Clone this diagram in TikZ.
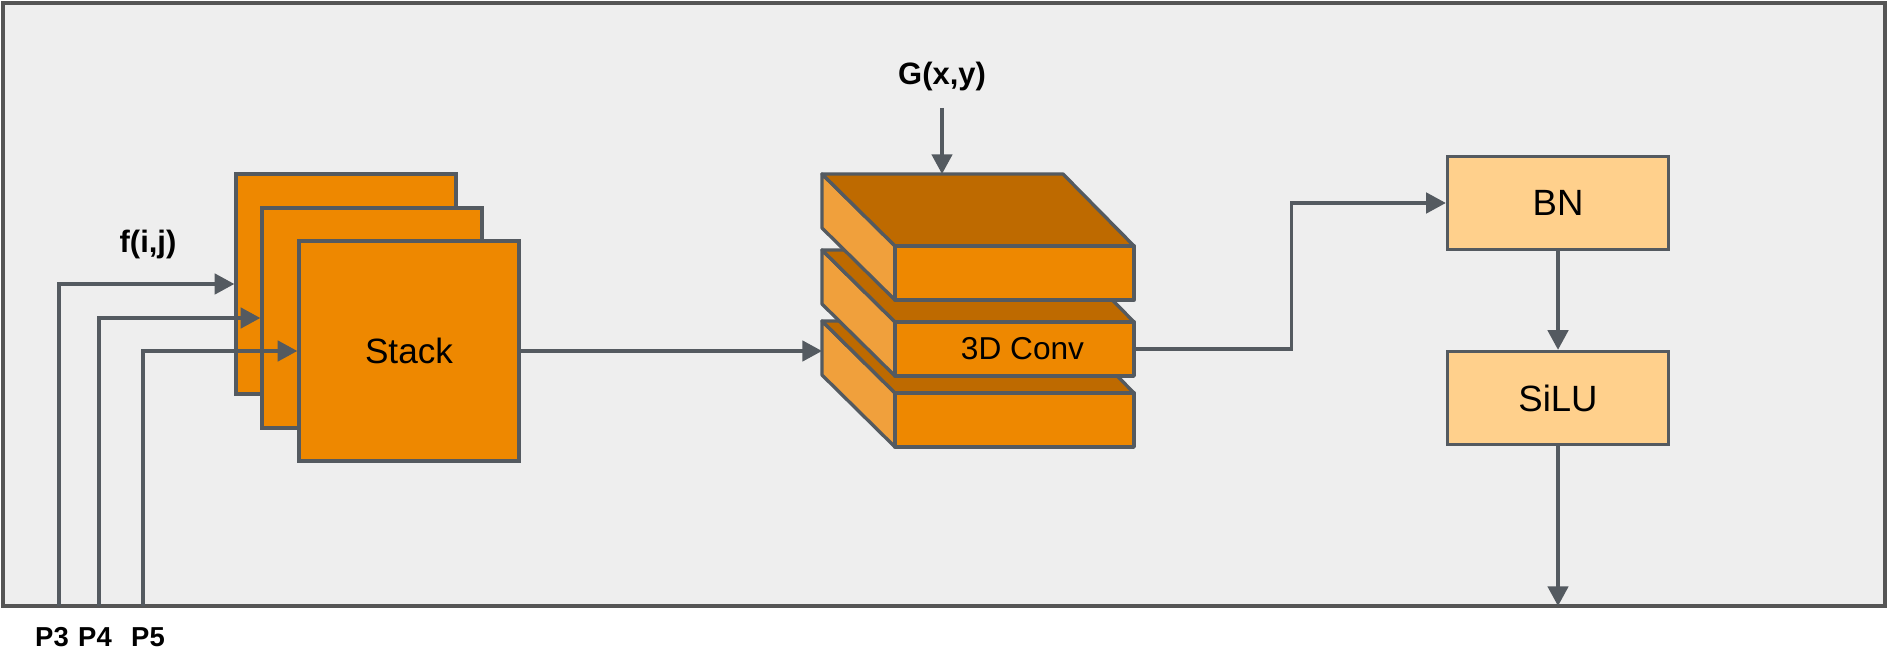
\documentclass[tikz,border=0pt]{standalone}
\usepackage{fontspec}
\setmainfont{Liberation Sans}
\usetikzlibrary{arrows.meta}

\definecolor{framegray}{HTML}{555555}
\definecolor{panel}{HTML}{EEEEEE}
\definecolor{edge}{HTML}{545A60}
\definecolor{sqorange}{HTML}{EE8800}
\definecolor{topface}{HTML}{BE6A00}
\definecolor{sideface}{HTML}{F0A03C}
\definecolor{bnfill}{HTML}{FFD08C}

\tikzset{
  sheet/.style={draw=edge, line width=0.95pt, fill=sqorange, minimum width=22mm, minimum height=22mm},
  opbox/.style={draw=edge, line width=0.95pt, fill=bnfill, minimum width=22.1mm, minimum height=9.3mm, font=\fontsize{10.4}{12}\selectfont},
  lbl/.style={font=\bfseries\fontsize{8.8}{10}\selectfont, inner sep=4.5pt},
  plbl/.style={font=\bfseries\fontsize{7.8}{9}\selectfont},
  conn/.style={draw=edge, line width=1pt, -{Triangle[length=5.6pt,width=5.8pt]}},
  face/.style={draw=edge, line width=0.95pt, line join=round}
}

\begin{document}
\begin{tikzpicture}[x=0.1mm, y=-0.1mm]
\useasboundingbox (0,0) rectangle (1890,658);
\fill[white] (0,0) rectangle (1890,658);
\draw[framegray, line width=1.2pt, fill=panel] (3,3) rectangle (1885,606);

% stacked maps
\node[sheet] (sq1) at (346,284) {};
\node[sheet] (sq2) at (372,318) {};
\node[sheet, font=\fontsize{10}{12}\selectfont] (stack) at (409,351) {Stack};

\node[lbl] (fij) at (148,245) {f(i,j)};

\node[plbl] (p3) at (52,637) {P3};
\node[plbl] (p4) at (95,637) {P4};
\node[plbl] (p5) at (148,637) {P5};

\coordinate (in3) at (59,606);
\coordinate (in4) at (99,606);
\coordinate (in5) at (143,606);

\draw[conn] (in3) |- (sq1.west);
\draw[conn] (in4) |- (sq2.west);
\draw[conn] (in5) |- (stack.west);

% 3D conv block
\foreach \t in {321,250,174} {
  \filldraw[face, fill=sideface] (822,\t) -- (895,\t+72) -- (895,\t+126) -- (822,\t+54) -- cycle;
  \filldraw[face, fill=topface] (822,\t) -- (1063,\t) -- (1134,\t+72) -- (895,\t+72) -- cycle;
  \filldraw[face, fill=sqorange] (895,\t+72) rectangle (1134,\t+126);
}
\node[minimum width=23.9mm, minimum height=5.4mm, font=\fontsize{9}{11}\selectfont] (conv) at (1014.5,349) {\hspace*{1.6mm}3D Conv};

\coordinate (convin) at (822,351);
\coordinate (convtop) at (942,174);

\node[lbl] (gxy) at (942,77) {G(x,y)};

\node[opbox] (bn) at (1558,203) {BN};
\node[opbox] (silu) at (1558,398) {SiLU};
\coordinate (out) at (1558,606);

\draw[conn] (stack.east) -- (convin);
\draw[conn] (gxy) -- (convtop);
\draw[conn] (conv.east) -- ++(157,0) |- (bn.west);
\draw[conn] (bn) -- (silu);
\draw[conn] (silu) -- (out);
\end{tikzpicture}
\end{document}
